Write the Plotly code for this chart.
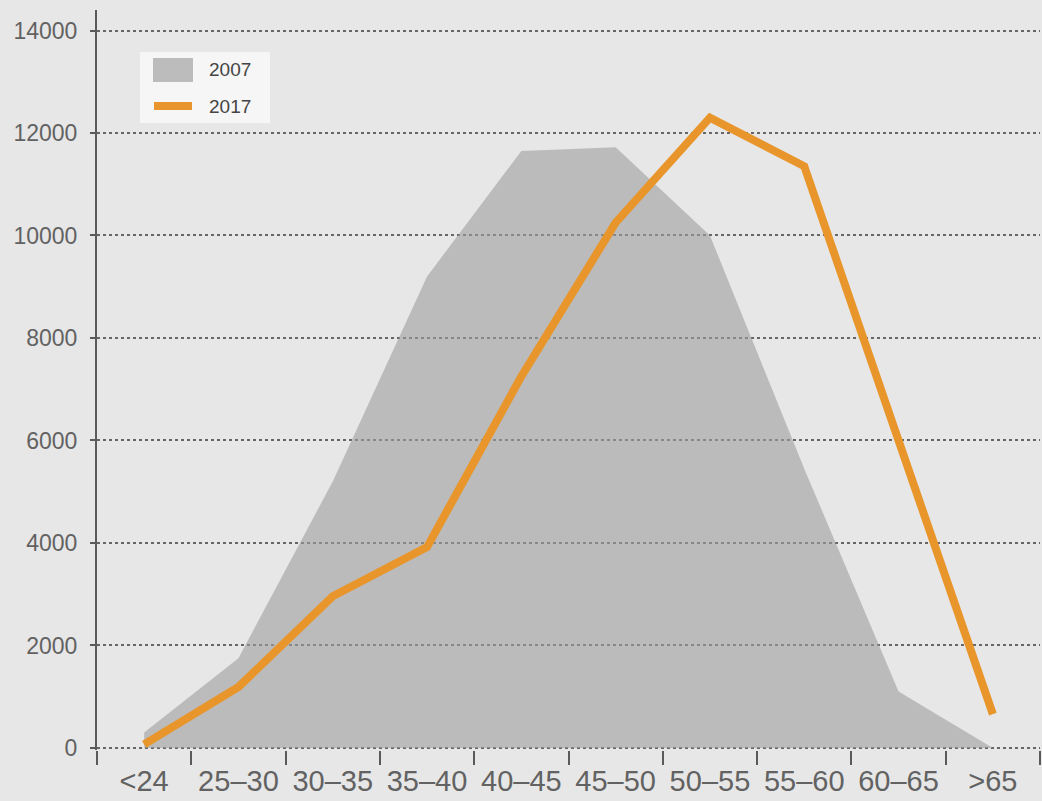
import plotly.graph_objects as go

# Age bands on the x axis
age_groups = ["<24", "25–30", "30–35", "35–40", "40–45", "45–50",
              "50–55", "55–60", "60–65", ">65"]

# Head counts per age band
counts_2007 = [300, 1750, 5200, 9200, 11650, 11720, 10000, 5450, 1100, 0]
counts_2017 = [70, 1190, 2960, 3920, 7250, 10250, 12300, 11350, 6000, 660]

y_ticks = [0, 2000, 4000, 6000, 8000, 10000, 12000, 14000]
series_names = ["2007", "2017"]

BG = "#e7e7e7"
AXIS = "#5a5a5a"
TEXT = "#626262"
GRAY = "#bcbcbc"
GRAY_FILL = "rgba(158,158,158,0.6)"  # lets the grid show faintly through the area
ORANGE = "#e8962c"

# Plot area in pixels (used to place the legend box in paper coordinates)
L, R, T, B, W, H = 97, 2, 10, 51, 1042, 801
PW, PH = W - L - R, H - T - B


def px(x):
    return (x - L) / PW


def py(y):
    return (H - B - y) / PH


fig = go.Figure()

fig.add_trace(go.Scatter(
    x=age_groups, y=counts_2007, name=series_names[0],
    mode="lines", line=dict(width=0, color=GRAY),
    fill="tozeroy", fillcolor=GRAY_FILL, showlegend=False,
))

fig.add_trace(go.Scatter(
    x=age_groups, y=counts_2017, name=series_names[1],
    mode="lines", line=dict(width=8, color=ORANGE), showlegend=False,
))

# Legend box drawn with shapes so the swatches match the marks
shapes = [
    dict(type="rect", xref="paper", yref="paper",
         x0=px(140), x1=px(270), y0=py(123), y1=py(52),
         fillcolor="#f6f6f6", line=dict(width=0), layer="above"),
    dict(type="rect", xref="paper", yref="paper",
         x0=px(153), x1=px(193), y0=py(82), y1=py(58),
         fillcolor=GRAY, line=dict(width=0), layer="above"),
    dict(type="line", xref="paper", yref="paper",
         x0=px(154), x1=px(192), y0=py(106), y1=py(106),
         line=dict(width=8, color=ORANGE), layer="above"),
]
annotations = [
    dict(xref="paper", yref="paper", x=px(207), y=py(y), text=name,
         xanchor="left", yanchor="middle", showarrow=False,
         font=dict(size=19, color="#444444"))
    for name, y in zip(series_names, [70, 106])
]

fig.update_layout(
    width=W, height=H,
    paper_bgcolor=BG, plot_bgcolor=BG,
    margin=dict(l=L, r=R, t=T, b=B),
    font=dict(family="Liberation Sans, Arial, sans-serif", color=TEXT),
    showlegend=False,
    shapes=shapes, annotations=annotations,
)

fig.update_xaxes(
    type="category", range=[-0.5, 9.5],
    showgrid=False, zeroline=False, showline=False,
    tickson="boundaries", ticks="outside", ticklen=14, tickwidth=2,
    tickcolor=AXIS, tickfont=dict(size=29, color=TEXT),
    ticklabelstandoff=11,
)

fig.update_yaxes(
    range=[-40, 14400], tickvals=y_ticks, tickformat="d",
    showgrid=True, gridcolor="#666666", gridwidth=2, griddash="dot",
    zeroline=False, showline=True, linecolor=AXIS, linewidth=2,
    ticks="outside", ticklen=5, tickwidth=2, tickcolor=AXIS,
    tickfont=dict(size=23, color=TEXT), ticklabelstandoff=8,
)

fig.write_html("out.html")
